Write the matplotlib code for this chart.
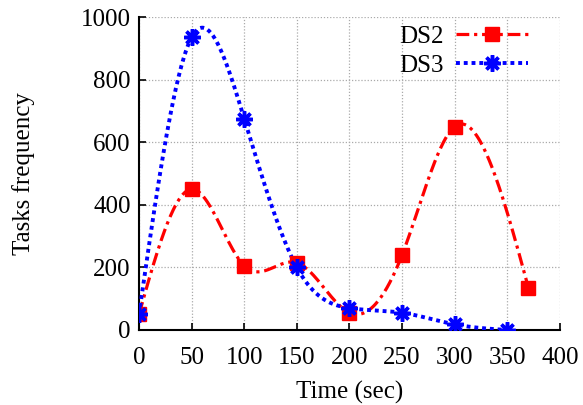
import numpy as np
import matplotlib
matplotlib.use("Agg")
import matplotlib.pyplot as plt

# Task-frequency samples over time for the two datasets
time_ds2 = [0, 50, 100, 150, 200, 250, 300, 370]
freq_ds2 = [50, 450, 205, 215, 55, 240, 650, 135]
time_ds3 = [0, 50, 100, 150, 200, 250, 300, 350]
freq_ds3 = [50, 935, 675, 200, 70, 55, 18, 0]

x_ticks = [0, 50, 100, 150, 200, 250, 300, 350, 400]
y_ticks = [0, 200, 400, 600, 800, 1000]


def natural_spline(x, y, n=400):
    """Natural cubic spline through (x, y), sampled on n points."""
    x = np.asarray(x, float)
    y = np.asarray(y, float)
    m = len(x)
    h = np.diff(x)
    A = np.zeros((m, m))
    b = np.zeros(m)
    A[0, 0] = A[-1, -1] = 1.0
    for i in range(1, m - 1):
        A[i, i - 1] = h[i - 1]
        A[i, i] = 2 * (h[i - 1] + h[i])
        A[i, i + 1] = h[i]
        b[i] = 6 * ((y[i + 1] - y[i]) / h[i] - (y[i] - y[i - 1]) / h[i - 1])
    M = np.linalg.solve(A, b)
    xs = np.linspace(x[0], x[-1], n)
    idx = np.clip(np.searchsorted(x, xs) - 1, 0, m - 2)
    x0, x1 = x[idx], x[idx + 1]
    hh = x1 - x0
    t0 = x1 - xs
    t1 = xs - x0
    ys = (M[idx] * t0 ** 3 + M[idx + 1] * t1 ** 3) / (6 * hh) \
        + (y[idx] / hh - M[idx] * hh / 6) * t0 \
        + (y[idx + 1] / hh - M[idx + 1] * hh / 6) * t1
    return xs, ys


plt.rcParams["font.family"] = ["Liberation Serif", "DejaVu Serif"]
plt.rcParams["font.size"] = 18

fig = plt.figure(figsize=(5.83, 4.05), dpi=100)
ax = fig.add_axes([0.2384, 0.1852, 0.7221, 0.7728])

red = "#ff0000"
blue = "#0000ff"
ds2_style = dict(color=red, lw=2.3, linestyle=(0, (4, 1.5, 1, 1.5)))
ds3_style = dict(color=blue, lw=2.8, linestyle=(0, (1, 1)))
ds2_marker = dict(marker="s", ms=9.5)
ds3_marker = dict(marker=(8, 2, 0), ms=12, mew=2.5)

xs2, ys2 = natural_spline(time_ds2, freq_ds2)
xs3, ys3 = natural_spline(time_ds3, freq_ds3)

ax.plot(xs2, ys2, zorder=3, **ds2_style)
ax.plot(time_ds2, freq_ds2, linestyle="none", color=red, zorder=4,
        **ds2_marker)
ax.plot(xs3, ys3, zorder=3, **ds3_style)
ax.plot(time_ds3, freq_ds3, linestyle="none", color=blue, zorder=5,
        **ds3_marker)

# legend proxies combining line and marker
h2, = ax.plot([], [], **ds2_style, **ds2_marker)
h3, = ax.plot([], [], **ds3_style, **ds3_marker)
ax.legend([h2, h3], ["DS2", "DS3"], loc="upper right",
          bbox_to_anchor=(0.943, 0.998), frameon=False, markerfirst=False,
          handlelength=2.9, handletextpad=0.5, labelspacing=0.26,
          borderaxespad=0.2, borderpad=0.1, fontsize=18, numpoints=1)

ax.set_xlim(0, 400)
ax.set_ylim(0, 1000)
ax.set_xticks(x_ticks)
ax.set_yticks(y_ticks)
ax.grid(True, color="#aaaaaa", linestyle=(0, (1, 1.5)), lw=0.9)
ax.set_axisbelow(True)

for side in ("top", "right"):
    ax.spines[side].set_visible(False)
for side in ("left", "bottom"):
    ax.spines[side].set_linewidth(1.5)
ax.tick_params(direction="in", length=5, width=1.2, labelsize=18)
ax.tick_params(axis="x", pad=12)
ax.tick_params(axis="y", pad=6)

ax.set_xlabel("Time (sec)", fontsize=18, labelpad=9)
ax.set_ylabel("Tasks frequency", fontsize=18, labelpad=33)

fig.savefig("out.png", dpi=100)
